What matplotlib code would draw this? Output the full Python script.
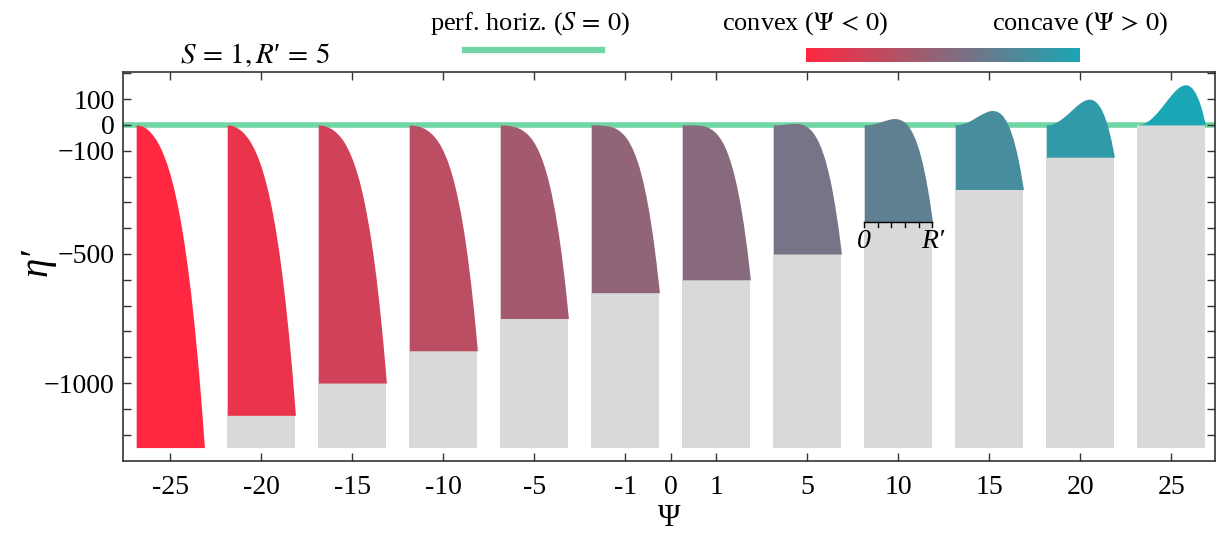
import matplotlib
matplotlib.use('Agg')
import matplotlib.pyplot as plt
import numpy as np
from matplotlib.colors import LinearSegmentedColormap, to_rgb
from matplotlib.lines import Line2D

plt.rcParams['font.family'] = ['Liberation Serif', 'DejaVu Serif']
plt.rcParams['mathtext.fontset'] = 'stix'

# Данные: Ψ для каждой панели и профили η'(r)
psi_values = [-25, -20, -15, -10, -5, -1, 1, 5, 10, 15, 20, 25]
psi_labels = ['-25', '-20', '-15', '-10', '-5', '-1', '1', '5', '10', '15', '20', '25']
r_samples = [0, 0.25, 0.5, 0.75, 1, 1.25, 1.5, 1.75, 2, 2.25, 2.5,
             2.75, 3, 3.25, 3.5, 3.75, 4, 4.25, 4.5, 4.75, 5]

eta_m25 = [0, -2, -6, -14, -26, -42, -61, -86, -116, -152, -195,
           -246, -306, -376, -456, -549, -656, -778, -916, -1073, -1250]
eta_m20 = [0, -1, -5, -12, -21, -34, -50, -71, -96, -127, -164,
           -208, -261, -323, -395, -479, -576, -688, -815, -960, -1125]
eta_m15 = [0, -1, -4, -9, -16, -26, -39, -55, -76, -102, -133,
           -171, -216, -270, -334, -409, -496, -597, -714, -848, -1000]
eta_m10 = [0, -1, -3, -6, -11, -18, -28, -40, -56, -76, -102,
           -133, -171, -217, -273, -338, -416, -507, -613, -735, -875]
eta_m5 = [0, 0, -1, -3, -6, -10, -16, -25, -36, -51, -70,
          -95, -126, -164, -211, -268, -336, -417, -511, -622, -750]
eta_m1 = [0, 0, 0, -1, -2, -4, -7, -12, -20, -31, -45,
          -65, -90, -122, -162, -212, -272, -344, -430, -532, -650]
eta_p1 = [0, 0, 0, 0, 0, -1, -3, -6, -12, -21, -33,
          -50, -72, -101, -138, -184, -240, -308, -390, -487, -600]
eta_p5 = [0, 0, 1, 2, 4, 5, 6, 6, 4, 0, -8,
          -19, -36, -59, -89, -127, -176, -236, -309, -396, -500]
eta_p10 = [0, 1, 2, 5, 9, 13, 17, 21, 24, 25, 23,
           18, 9, -6, -28, -57, -96, -146, -208, -283, -375]
eta_p15 = [0, 1, 4, 8, 14, 21, 29, 37, 44, 50, 55,
           56, 54, 47, 34, 13, -16, -55, -106, -171, -250]
eta_p20 = [0, 1, 5, 11, 19, 29, 40, 52, 64, 76, 86,
           94, 99, 100, 95, 83, 64, 35, -5, -58, -125]
eta_p25 = [0, 2, 6, 14, 24, 37, 51, 67, 84, 101, 117,
           132, 144, 152, 156, 154, 144, 125, 96, 55, 0]
eta_curves = [eta_m25, eta_m20, eta_m15, eta_m10, eta_m5, eta_m1,
              eta_p1, eta_p5, eta_p10, eta_p15, eta_p20, eta_p25]

r_max = 5
eta_floor = -1250

red = np.array(to_rgb('#ff2840'))
teal = np.array(to_rgb('#1aa6b4'))
grad = LinearSegmentedColormap.from_list('convcon', [red, teal])

fig = plt.figure(figsize=(12.2, 5.33), dpi=100)
ax = fig.add_axes([0.1008, 0.1351, 0.8951, 0.7298])

width = 0.75
ax.axhline(0, color='#6fd6a4', lw=4, zorder=1)

for k, (psi, eta) in enumerate(zip(psi_values, eta_curves)):
    x = k - width / 2 + np.array(r_samples) / r_max * width
    eta = np.array(eta)
    low = max(eta.min(), eta_floor)
    col = grad((psi + 25) / 50)
    ax.bar(k, low - eta_floor, bottom=eta_floor, width=width,
           color='#d9d9d9', lw=0, zorder=2)
    ax.fill_between(x, np.maximum(eta, eta_floor), low, color=col, lw=0, zorder=3)

# Маленькая ось r под панелью Ψ = 10
k10 = psi_values.index(10)
y0 = min(eta_p10)
x0 = k10 - width / 2
ax.plot([x0, x0 + width], [y0, y0], color='k', lw=1, zorder=4)
for r in range(0, 6):
    xr = x0 + r / r_max * width
    ax.plot([xr, xr], [y0, y0 - 20], color='k', lw=1, zorder=4)
ax.text(x0, y0 - 30, '0', ha='center', va='top', fontsize=20, style='italic')
ax.text(x0 + width, y0 - 30, 'R\u2032', ha='center', va='top', fontsize=20,
        style='italic')

ax.set_xlim(-0.52, 11.48)
ax.set_ylim(-1302, 205)

xt = list(range(6)) + [5.5] + list(range(6, 12))
xl = psi_labels[:6] + ['0'] + psi_labels[6:]
ax.set_xticks(xt)
ax.set_xticklabels(xl, fontsize=20)
ax.set_yticks([100, 0, -100, -500, -1000])
ax.set_yticklabels(['100', '0', '\u2212100', '\u2212500', '\u22121000'], fontsize=20)
ax.set_yticks(np.arange(-1200, 201, 100), minor=True)
ax.tick_params(axis='both', which='both', direction='in', top=True, right=True,
               length=6, width=1, color='#333333')
ax.tick_params(axis='x', pad=10)
ax.tick_params(axis='y', pad=6)
for s in ax.spines.values():
    s.set_color('#333333')
    s.set_linewidth(1.2)

ax.set_xlabel('\u03a8', fontsize=22, labelpad=3)
fig.text(37 / 1220, 1 - 262 / 533, '\u03b7\u2032', rotation=90, ha='center',
         va='center', fontsize=28, style='italic')

# Заголовок и легенда сверху
fig.text(0.209, 0.897, r'$S\,=\,1, R$' + '\u2032' + r'$\,=\,5$', ha='center',
         va='center', fontsize=21)
fig.text(0.434, 0.955, r'perf. horiz. ($S\,=\,0$)', ha='center', va='center',
         fontsize=19)
fig.lines.append(Line2D([465 / 1220, 602 / 1220], [1 - 50 / 533, 1 - 50 / 533],
                        transform=fig.transFigure, color='#6fd6a4', lw=4.5))
fig.text(0.660, 0.955, r'convex ($\Psi\,<\,0$)', ha='center', va='center', fontsize=19)
fig.text(0.885, 0.955, r'concave ($\Psi\,>\,0$)', ha='center', va='center', fontsize=19)
cax = fig.add_axes([806 / 1220, 1 - 62 / 533, 274 / 1220, 14 / 533])
cax.imshow(np.linspace(0, 1, 256)[None, :], aspect='auto', cmap=grad)
cax.axis('off')

fig.savefig('out.png', dpi=100)
